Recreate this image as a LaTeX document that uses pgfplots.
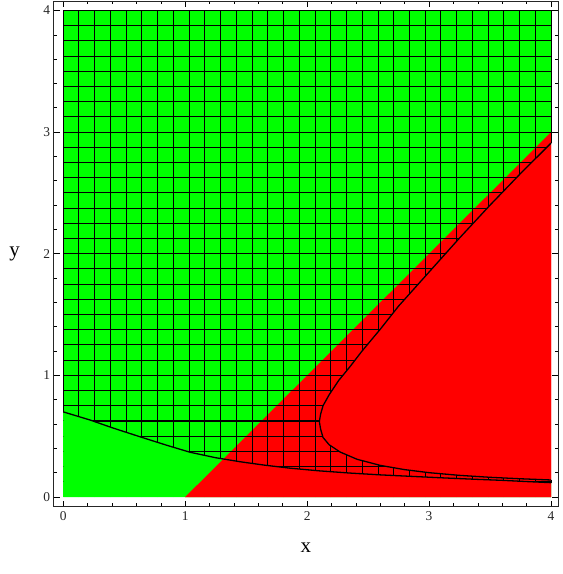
\documentclass[border=0pt]{standalone}
\usepackage{fontspec}
\setmainfont{Liberation Serif}
\usepackage{pgfplots}
\pgfplotsset{compat=1.18}
\definecolor{rgreen}{rgb}{0,1,0}
\definecolor{rred}{rgb}{1,0,0}

\begin{document}
\begin{tikzpicture}
\begin{axis}[
    scale only axis,
    width=504.5bp, height=505.5bp,
    xmin=-0.080, xmax=4.057,
    ymin=-0.078, ymax=4.078,
    xtick={0,1,2,3,4}, ytick={0,1,2,3,4},
    minor x tick num=4, minor y tick num=4,
    tick align=inside,
    major tick length=6bp, minor tick length=3.5bp,
    every tick/.style={black, line width=0.6bp},
    axis line style={black!85, line width=0.8bp},
    /pgf/number format/assume math mode=true,
    tick label style={font=\fontsize{13.5}{14}\selectfont, black!85},
    xticklabel style={yshift=-1.5bp},
    xlabel={x}, ylabel={y},
    every axis x label/.style={at={(axis description cs:0.5,0)}, anchor=base, yshift=-46bp, font=\fontsize{21}{22}\selectfont},
    every axis y label/.style={at={(axis description cs:0,0.5)}, anchor=center, xshift=-39bp, font=\fontsize{21}{22}\selectfont},
    unbounded coords=jump,
    mesh line/.style={black, line width=1.0bp, line cap=butt},
]

% background regions
\addplot[fill=rgreen, draw=none] coordinates {(0,0)(4,0)(4,4)(0,4)} -- cycle;
\addplot[fill=rred, draw=none] coordinates {(1,0)(4,3)(4,0)} -- cycle;

% mesh: vertical lines
\addplot[mesh line] coordinates {
(0,0.70)(0,4)(0,nan)
(0.129,0)(0.129,4)(0.129,nan)
(0.258,0)(0.258,4)(0.258,nan)
(0.387,0)(0.387,4)(0.387,nan)
(0.516,0)(0.516,4)(0.516,nan)
(0.645,0)(0.645,4)(0.645,nan)
(0.774,0)(0.774,4)(0.774,nan)
(0.903,0)(0.903,4)(0.903,nan)
(1.032,0)(1.032,4)(1.032,nan)
(1.161,0)(1.161,4)(1.161,nan)
(1.290,0)(1.290,4)(1.290,nan)
(1.419,0)(1.419,4)(1.419,nan)
(1.548,0)(1.548,4)(1.548,nan)
(1.677,0)(1.677,4)(1.677,nan)
(1.806,0)(1.806,4)(1.806,nan)
(1.935,0)(1.935,4)(1.935,nan)
(2.065,0)(2.065,4)(2.065,nan)
(2.194,0)(2.194,4)(2.194,nan)
(2.323,0)(2.323,4)(2.323,nan)
(2.452,0)(2.452,4)(2.452,nan)
(2.581,0)(2.581,4)(2.581,nan)
(2.710,0)(2.710,4)(2.710,nan)
(2.839,0)(2.839,4)(2.839,nan)
(2.968,0)(2.968,4)(2.968,nan)
(3.097,0)(3.097,4)(3.097,nan)
(3.226,0)(3.226,4)(3.226,nan)
(3.355,0)(3.355,4)(3.355,nan)
(3.484,0)(3.484,4)(3.484,nan)
(3.613,0)(3.613,4)(3.613,nan)
(3.742,0)(3.742,4)(3.742,nan)
(3.871,0)(3.871,4)(3.871,nan)
(4,2.91)(4,4)(4,nan)
(4,0.118)(4,0.14)
};

% mesh: horizontal lines
\addplot[mesh line] coordinates {
(0,0.125)(4,0.125)(nan,0.125)
(0,0.250)(4,0.250)(nan,0.250)
(0,0.375)(4,0.375)(nan,0.375)
(0,0.500)(4,0.500)(nan,0.500)
(0,0.625)(4,0.625)(nan,0.625)
(0,0.750)(4,0.750)(nan,0.750)
(0,0.875)(4,0.875)(nan,0.875)
(0,1.000)(4,1.000)(nan,1.000)
(0,1.125)(4,1.125)(nan,1.125)
(0,1.250)(4,1.250)(nan,1.250)
(0,1.375)(4,1.375)(nan,1.375)
(0,1.500)(4,1.500)(nan,1.500)
(0,1.625)(4,1.625)(nan,1.625)
(0,1.750)(4,1.750)(nan,1.750)
(0,1.875)(4,1.875)(nan,1.875)
(0,2.000)(4,2.000)(nan,2.000)
(0,2.125)(4,2.125)(nan,2.125)
(0,2.250)(4,2.250)(nan,2.250)
(0,2.375)(4,2.375)(nan,2.375)
(0,2.500)(4,2.500)(nan,2.500)
(0,2.625)(4,2.625)(nan,2.625)
(0,2.750)(4,2.750)(nan,2.750)
(0,2.875)(4,2.875)(nan,2.875)
(0,3.000)(4,3.000)(nan,3.000)
(0,3.125)(4,3.125)(nan,3.125)
(0,3.250)(4,3.250)(nan,3.250)
(0,3.375)(4,3.375)(nan,3.375)
(0,3.500)(4,3.500)(nan,3.500)
(0,3.625)(4,3.625)(nan,3.625)
(0,3.750)(4,3.750)(nan,3.750)
(0,3.875)(4,3.875)(nan,3.875)
(0,4.000)(4,4.000)
};
\addplot[black, line width=2bp] coordinates {(0.20,0.625)(2.10,0.625)};

% region below the lower boundary (no mesh)
\addplot[fill=rgreen, draw=none] coordinates {
(0,0)(0,0.700)(0.22,0.633)(0.40,0.570)(0.63,0.495)(0.85,0.425)(1.04,0.368)
(1.25,0.323)(1.45,0.290)(1.65,0.262)(1.86,0.237)(2.10,0.215)(2.35,0.197)
(2.60,0.182)(2.85,0.170)(3.10,0.158)(3.35,0.147)(3.60,0.137)(3.80,0.127)
(4.00,0.118)(4,0)} -- cycle;
\addplot[fill=rred, draw=none] coordinates {
(1,0)(1.312,0.312)(1.45,0.290)(1.65,0.262)(1.86,0.237)(2.10,0.215)(2.35,0.197)
(2.60,0.182)(2.85,0.170)(3.10,0.158)(3.35,0.147)(3.60,0.137)(3.80,0.127)
(4.00,0.118)(4,0)} -- cycle;

% region inside the curved boundary (no mesh)
\addplot[fill=rred, draw=none] coordinates {
(4.00,2.91)(3.75,2.66)(3.50,2.40)(3.25,2.13)(3.00,1.85)(2.75,1.57)(2.60,1.38)
(2.45,1.20)(2.35,1.07)(2.26,0.96)(2.18,0.84)(2.13,0.75)(2.11,0.68)(2.10,0.62)
(2.11,0.56)(2.13,0.49)(2.18,0.43)(2.27,0.37)(2.41,0.31)(2.60,0.26)(2.80,0.225)
(3.00,0.20)(3.25,0.178)(3.50,0.162)(3.75,0.150)(4.00,0.140)} -- cycle;

% boundary curves
\addplot[black, line width=1.3bp] coordinates {
(0,0.700)(0.22,0.633)(0.40,0.570)(0.63,0.495)(0.85,0.425)(1.04,0.368)
(1.25,0.323)(1.45,0.290)(1.65,0.262)(1.86,0.237)(2.10,0.215)(2.35,0.197)
(2.60,0.182)(2.85,0.170)(3.10,0.158)(3.35,0.147)(3.60,0.137)(3.80,0.127)
(4.00,0.118)};
\addplot[black, line width=1.3bp] coordinates {
(4.00,2.91)(3.75,2.66)(3.50,2.40)(3.25,2.13)(3.00,1.85)(2.75,1.57)(2.60,1.38)
(2.45,1.20)(2.35,1.07)(2.26,0.96)(2.18,0.84)(2.13,0.75)(2.11,0.68)(2.10,0.62)
(2.11,0.56)(2.13,0.49)(2.18,0.43)(2.27,0.37)(2.41,0.31)(2.60,0.26)(2.80,0.225)
(3.00,0.20)(3.25,0.178)(3.50,0.162)(3.75,0.150)(4.00,0.140)};

\end{axis}
\pgfresetboundingbox
\path[use as bounding box] ([xshift=-53.5bp,yshift=-67.5bp]current axis.south west) rectangle ([xshift=5bp,yshift=1bp]current axis.north east);
\end{tikzpicture}
\end{document}
